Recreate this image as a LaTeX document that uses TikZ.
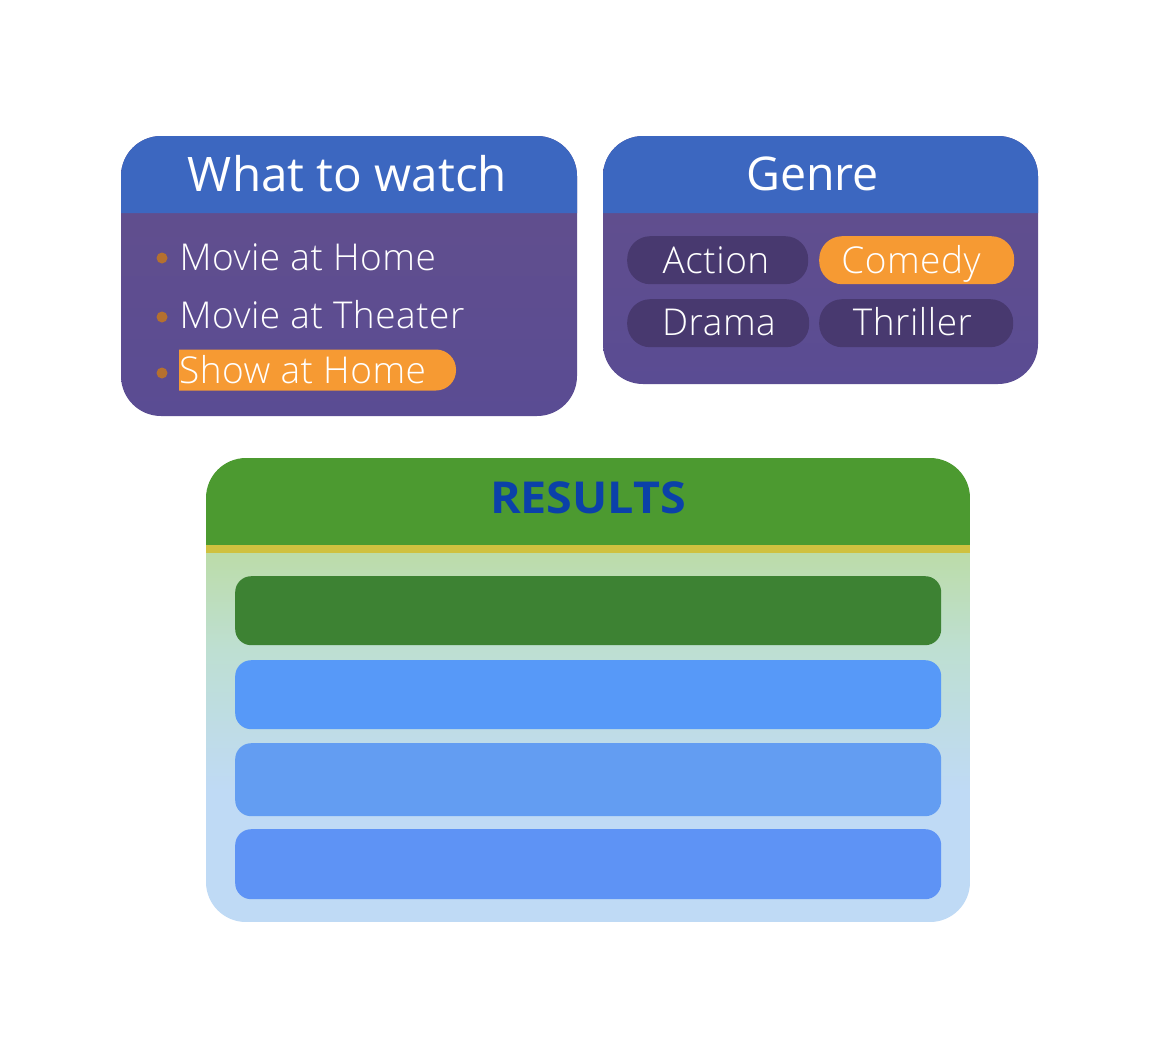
\documentclass[tikz,border=0pt]{standalone}
\usepackage{graphicx}
\usepackage{fontspec}
\setmainfont{Open Sans}
\newfontfamily\itemface[LetterSpace=1.4]{Open Sans Light}
\definecolor{hdrblue}{HTML}{3C67C0}
\definecolor{bodytop}{HTML}{634F8C}
\definecolor{bodybot}{HTML}{5A4C93}
\definecolor{pilldark}{HTML}{48396F}
\definecolor{hiorange}{HTML}{F69A33}
\definecolor{bullet}{HTML}{B5702F}
\definecolor{hdrgreen}{HTML}{4C9A30}
\definecolor{bandyellow}{HTML}{CFC13F}
\definecolor{rowgreen}{HTML}{3D8233}
\definecolor{rowblueA}{HTML}{5799F8}
\definecolor{rowblueB}{HTML}{639DF2}
\definecolor{rowblueC}{HTML}{5E93F5}
\definecolor{resblue}{HTML}{0B41A9}
\definecolor{resA}{HTML}{BCDCA9}
\definecolor{resB}{HTML}{BEDFD2}
\definecolor{resC}{HTML}{BFDAF5}
\tikzset{
  lbl/.style={anchor=base,text=white,inner sep=0pt},
  lblw/.style={anchor=base west,text=white,inner sep=0pt},
  pillshape/.style={rounded corners=23pt,fill=pilldark,anchor=north west,inner sep=0pt,minimum height=48pt},
  rowshape/.style={rounded corners=16pt,anchor=north west,inner sep=0pt,minimum width=706pt},
  dot/.style={circle,fill=bullet,inner sep=0pt,minimum size=11pt},
  bigfont/.style={font=\fontsize{47.6}{50}\selectfont},
  genrefont/.style={font=\fontsize{46.5}{50}\selectfont},
  itemfont/.style={font=\itemface\fontsize{37}{40}\selectfont},
}
\begin{document}
\begin{tikzpicture}[x=1pt,y=-1pt]
\useasboundingbox (0,0) rectangle (1160,1060);
\fill[white] (0,0) rectangle (1160,1060);
% What to watch panel
\shade[top color=bodytop,bottom color=bodybot,rounded corners=40pt] (121,136) rectangle (577,416);
\fill[hdrblue,rounded corners=40pt] (121,213) -- (121,136) -- (577,136) [sharp corners] -- (577,213) -- cycle;
\node[lbl,bigfont] (watch) at (347.5,191) {What to watch};
\node[dot] (b1) at (162,258) {};
\node[dot] (b2) at (162,317) {};
\node[dot] (b3) at (162,373) {};
\node[lblw,itemfont] (m1) at (179.5,270) {Movie at Home};
\node[lblw,itemfont] (m2) at (179.5,328) {Movie at Theater};
\fill[hiorange,rounded corners=20pt] (179,349.5) -- (456,349.5) -- (456,390.5) [sharp corners] -- (179,390.5) -- cycle;
\node[lblw,itemfont] (m3) at (179,383) {Show at Home};
% Genre panel
\shade[top color=bodytop,bottom color=bodybot,rounded corners=40pt] (603,136) rectangle (1038,384);
\fill[hdrblue,rounded corners=40pt] (603,213) -- (603,136) -- (1038,136) [sharp corners] -- (1038,213) -- cycle;
\node[lbl,genrefont] (genre) at (812.5,190) {Genre};
\node[pillshape,minimum width=181pt] (pa) at (627,236) {};
\node[pillshape,minimum width=195pt,fill=hiorange] (pc) at (819,236) {};
\node[pillshape,minimum width=182pt] (pd) at (627,299) {};
\node[pillshape,minimum width=194pt] (pt) at (819,299) {};
\node[lbl,itemfont] (ta) at (716,273) {Action};
\node[lbl,itemfont] (tc) at (911,273) {Comedy};
\node[lbl,itemfont] (td) at (719,335) {Drama};
\node[lbl,itemfont] (tt) at (912.5,335) {Thriller};
% Results panel
\begin{scope}
\clip[rounded corners=40pt] (206,458) rectangle (970,922);
\shade[top color=resA,bottom color=resB] (206,553) rectangle (970,650);
\shade[top color=resB,bottom color=resC] (206,650) rectangle (970,790);
\fill[resC] (206,790) rectangle (970,922);
\fill[hdrgreen] (206,458) rectangle (970,545);
\fill[bandyellow] (206,545) rectangle (970,553);
\end{scope}
\node[anchor=base,text=resblue,inner sep=0pt,font=\bfseries\fontsize{44}{48}\selectfont] (res) at (588,513) {\scalebox{1.06}[1]{RESULTS}};
\node[rowshape,fill=rowgreen,minimum height=69pt] (r1) at (235,576) {};
\node[rowshape,fill=rowblueA,minimum height=69pt] (r2) at (235,660) {};
\node[rowshape,fill=rowblueB,minimum height=73pt] (r3) at (235,743) {};
\node[rowshape,fill=rowblueC,minimum height=70pt] (r4) at (235,829) {};
\end{tikzpicture}
\end{document}
